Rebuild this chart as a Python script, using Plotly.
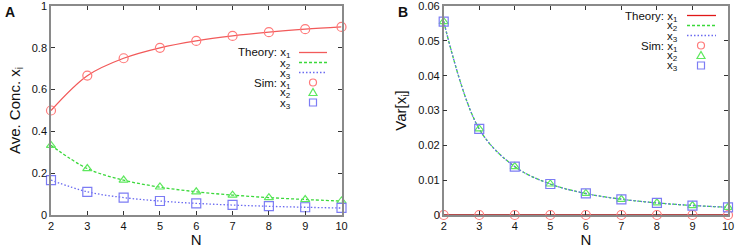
import plotly.graph_objects as go
from plotly.subplots import make_subplots

# ---- data ----
N = [2, 3, 4, 5, 6, 7, 8, 9, 10]
mean_x1 = [0.5, 0.6667, 0.75, 0.8, 0.8333, 0.8571, 0.875, 0.8889, 0.9]
mean_x2 = [0.3333, 0.2222, 0.1667, 0.1333, 0.1111, 0.0952, 0.0833, 0.0741, 0.0667]
mean_x3 = [0.1667, 0.1111, 0.0833, 0.0667, 0.0556, 0.0476, 0.0417, 0.0370, 0.0333]
sim_mean_x1 = [0.5, 0.667, 0.75, 0.80, 0.833, 0.857, 0.875, 0.889, 0.90]
sim_mean_x2 = [0.333, 0.222, 0.167, 0.134, 0.111, 0.095, 0.083, 0.074, 0.067]
sim_mean_x3 = [0.167, 0.111, 0.083, 0.067, 0.056, 0.048, 0.042, 0.037, 0.034]
var_x1 = [0, 0, 0, 0, 0, 0, 0, 0, 0]
var_x2 = [0.05556, 0.02469, 0.01389, 0.00889, 0.00617, 0.00454, 0.00347, 0.00274, 0.00222]
var_x3 = [0.05556, 0.02469, 0.01389, 0.00889, 0.00617, 0.00454, 0.00347, 0.00274, 0.00222]
sim_var_x1 = [0, 0, 0, 0, 0, 0, 0, 0, 0]
sim_var_x2 = [0.0555, 0.0247, 0.0139, 0.0089, 0.0062, 0.0045, 0.0035, 0.0027, 0.0022]
sim_var_x3 = [0.0555, 0.0247, 0.0139, 0.0089, 0.0062, 0.0045, 0.0035, 0.0027, 0.0022]
x_ticks = [2, 3, 4, 5, 6, 7, 8, 9, 10]
yA_ticks = [0, 0.2, 0.4, 0.6, 0.8, 1]
yA_labels = ["0", "0.2", "0.4", "0.6", "0.8", "1"]
yB_ticks = [0, 0.01, 0.02, 0.03, 0.04, 0.05, 0.06]
yB_labels = ["0", "0.01", "0.02", "0.03", "0.04", "0.05", "0.06"]

W, H = 737, 248
FONT = "Liberation Sans, Arial, sans-serif"
RED_L = "#f25a5a"
GRN_L = "#3ad83a"
BLU_L = "#6a6af0"
RED_M = "#ff7a7a"
GRN_M = "#5ee85e"
BLU_M = "#7c7cf4"

fig = make_subplots(rows=1, cols=2)

def add_panel(col, th, sim, x1color):
    dashes = ["solid", "3px,2px", "1.5px,2px"]
    lcols = [x1color, GRN_L, BLU_L]
    for y, c, d in zip(th, lcols, dashes):
        fig.add_trace(go.Scatter(x=N, y=y, mode="lines", line=dict(color=c, width=1.3, dash=d, shape="spline", smoothing=1.0),
                                 showlegend=False, hoverinfo="skip", cliponaxis=False), row=1, col=col)
    syms = ["circle-open", "triangle-up-open", "square-open"]
    mcols = [RED_M, GRN_M, BLU_M]
    sizes = [9, 8, 9]
    for y, c, s, sz in zip(sim, mcols, syms, sizes):
        fig.add_trace(go.Scatter(x=N, y=y, mode="markers", marker=dict(symbol=s, size=sz, color=c, line=dict(color=c, width=1.2)),
                                 showlegend=False, hoverinfo="skip", cliponaxis=False), row=1, col=col)

add_panel(1, [mean_x1, mean_x2, mean_x3], [sim_mean_x1, sim_mean_x2, sim_mean_x3], RED_L)
add_panel(2, [var_x1, var_x2, var_x3], [sim_var_x1, sim_var_x2, sim_var_x3], "#9a1010")

axcommon = dict(showline=True, linecolor="#8a8a8a", linewidth=1.5, mirror="ticks", ticks="inside",
                ticklen=4, tickwidth=1, tickcolor="#333333", showgrid=False, zeroline=False, automargin=False,
                ticklabeloverflow="allow",
                tickfont=dict(family=FONT, size=11, color="#111"))

fig.update_xaxes(**axcommon, range=[2, 10], tickvals=x_ticks, title=dict(text="N", font=dict(family=FONT, size=15, color="#111"), standoff=2))
fig.update_yaxes(**axcommon)
fig.update_xaxes(domain=[51 / W, 341.5 / W], row=1, col=1)
fig.update_xaxes(domain=[443.7 / W, 728 / W], row=1, col=2)
fig.update_yaxes(domain=[1 - 215 / H, 1 - 6 / H], range=[0, 1], tickvals=yA_ticks, ticktext=yA_labels,
                 title=dict(text="Ave. Conc. x<sub>i</sub>", font=dict(family=FONT, size=15, color="#111"), standoff=8), row=1, col=1)
fig.update_yaxes(domain=[1 - 215 / H, 1 - 6 / H], range=[0, 0.06], tickvals=yB_ticks, ticktext=yB_labels,
                 title=dict(text="Var[x<sub>i</sub>]", font=dict(family=FONT, size=15, color="#111"), standoff=8), row=1, col=2)

shapes = []
annots = []

def px(x):
    return x / W

def py(y):
    return 1 - y / H

def legend(text_right, line_x0, line_x1, marker_x, y0, lcols, mcols):
    rows = ["Theory: x<sub>1</sub>", "x<sub>2</sub>", "x<sub>3</sub>", "Sim: x<sub>1</sub>", "x<sub>2</sub>", "x<sub>3</sub>"]
    for i, t in enumerate(rows):
        yy = y0 + 10 * i
        annots.append(dict(x=px(text_right), y=py(yy + 1), xref="paper", yref="paper", text=t, showarrow=False,
                           xanchor="right", yanchor="middle", font=dict(family=FONT, size=11.5, color="#111")))
    for i in range(3):
        yy = y0 + 10 * i
        shapes.append(dict(type="line", xref="paper", yref="paper", x0=px(line_x0), x1=px(line_x1), y0=py(yy), y1=py(yy),
                           line=dict(color=lcols[i], width=1.3, dash=["solid", "3px,2px", "1.5px,2px"][i])))
    r = 3.5
    yy = y0 + 30
    shapes.append(dict(type="circle", xref="paper", yref="paper", x0=px(marker_x - r), x1=px(marker_x + r),
                       y0=py(yy + r), y1=py(yy - r), line=dict(color=mcols[0], width=1.2)))
    yy = y0 + 40
    shapes.append(dict(type="path", xref="paper", yref="paper",
                       path=f"M {px(marker_x - 4)} {py(yy + 3)} L {px(marker_x + 4)} {py(yy + 3)} L {px(marker_x)} {py(yy - 4)} Z",
                       line=dict(color=mcols[1], width=1.2)))
    yy = y0 + 50
    shapes.append(dict(type="rect", xref="paper", yref="paper", x0=px(marker_x - 3.5), x1=px(marker_x + 3.5),
                       y0=py(yy + 3.5), y1=py(yy - 3.5), line=dict(color=mcols[2], width=1.2)))

legend(293, 299, 327, 313, 52.5, [RED_L, GRN_L, BLU_L], [RED_M, GRN_M, BLU_M])
legend(680, 687, 716, 701, 15.5, ["#e01818", GRN_L, BLU_L], [RED_M, GRN_M, BLU_M])

annots.append(dict(x=px(3), y=py(2), xref="paper", yref="paper", text="<b>A</b>", showarrow=False,
                   xanchor="left", yanchor="top", font=dict(family=FONT, size=14, color="#111")))
annots.append(dict(x=px(396), y=py(2), xref="paper", yref="paper", text="<b>B</b>", showarrow=False,
                   xanchor="left", yanchor="top", font=dict(family=FONT, size=14, color="#111")))

fig.update_layout(width=W, height=H, margin=dict(l=0, r=0, t=0, b=0), plot_bgcolor="white", paper_bgcolor="white",
                  shapes=shapes, annotations=annots, showlegend=False)

fig.write_html("out.html", config={"displayModeBar": False},
               post_script="document.body.style.margin='0';document.body.style.overflow='hidden';")
